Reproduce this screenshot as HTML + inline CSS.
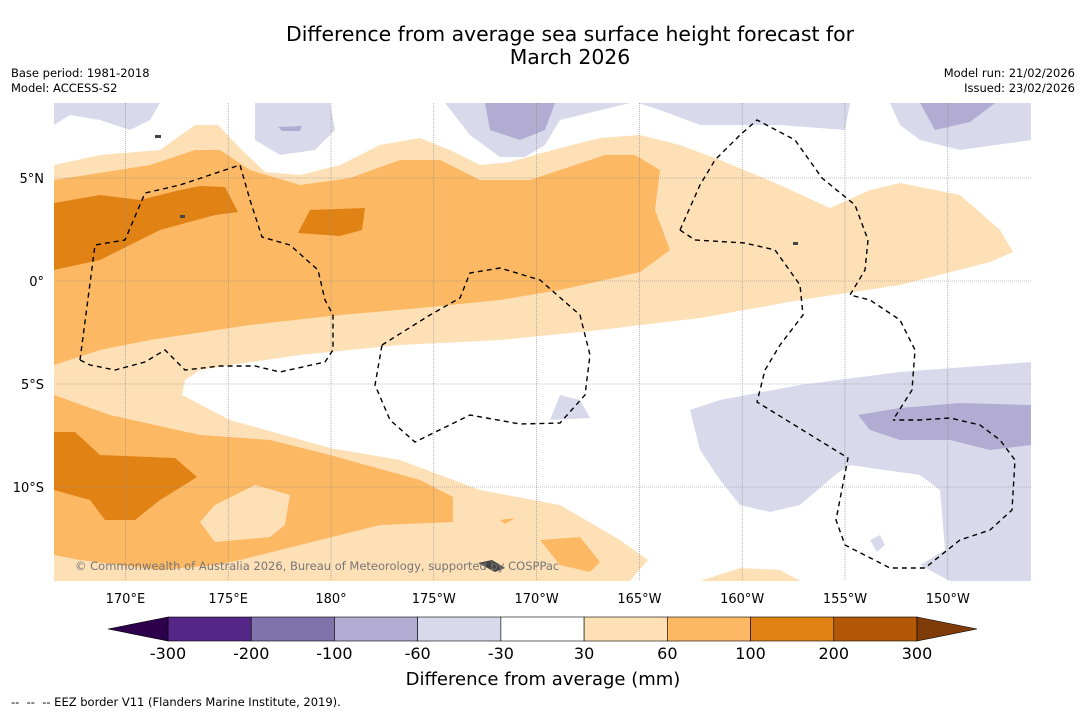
<!DOCTYPE html>
<html><head><meta charset="utf-8">
<style>
body{margin:0;background:#fff;width:1085px;height:713px;overflow:hidden;font-family:"DejaVu Sans","Liberation Sans",sans-serif;}
svg{display:block}
text{font-family:"DejaVu Sans","Liberation Sans",sans-serif;}
</style></head>
<body>
<svg id="chart" width="1085" height="713" viewBox="0 0 1085 713">
<rect x="0" y="0" width="1085" height="713" fill="#fff"/>
<text x="570" y="41" font-size="20.4" text-anchor="middle" fill="#000">Difference from average sea surface height forecast for</text>
<text x="570" y="64" font-size="20.4" text-anchor="middle" fill="#000">March 2026</text>
<text x="11" y="77" font-size="11.5">Base period: 1981-2018</text>
<text x="11" y="92" font-size="11.5">Model: ACCESS-S2</text>
<text x="1075" y="77" font-size="11.5" text-anchor="end">Model run: 21/02/2026</text>
<text x="1075" y="92" font-size="11.5" text-anchor="end">Issued: 23/02/2026</text>

<defs><clipPath id="mapclip"><rect x="54" y="103" width="977" height="478"/></clipPath></defs>
<g clip-path="url(#mapclip)">
<path fill="#fee0b6" d="M54,165 L100,155 L160,150 L195,125 L218,125 L240,148 L265,172 L300,175 L340,165 L380,145 L420,138 L450,150 L480,165 L510,162 L560,148 L600,138 L640,135 L680,145 L720,160 L780,185 L830,208 L870,190 L900,183 L960,195 L1000,230 L1013,252 L990,262 L900,285 L800,300 L700,318 L600,330 L500,340 L400,345 L300,355 L230,365 L200,370 L185,380 L182,395 L230,420 L330,448 L400,460 L480,490 L560,505 L620,540 L648,560 L630,581 L54,581 Z"/>
<path fill="#fee0b6" d="M700,581 L740,568 L780,570 L800,581 Z"/>
<path fill="#fdb863" d="M54,180 L150,165 L195,150 L220,150 L250,170 L300,185 L350,178 L400,160 L440,160 L480,180 L530,180 L560,170 L605,155 L635,155 L660,170 L655,210 L670,250 L640,272 L560,290 L500,300 L420,308 L340,315 L250,325 L150,340 L100,350 L54,365 Z"/>
<path fill="#fdb863" d="M54,395 L110,415 L200,435 L270,440 L330,455 L420,480 L453,497 L453,522 L380,525 L300,545 L240,560 L215,565 L160,570 L80,560 L54,555 Z"/>
<path fill="#fee0b6" d="M200,522 L215,505 L255,485 L290,495 L285,525 L270,537 L215,542 Z"/>
<path fill="#fdb863" d="M540,540 L580,537 L600,562 L590,572 L560,565 Z M500,520 L515,518 L505,524 Z"/>
<path fill="#e08214" d="M54,203 L100,195 L140,200 L180,190 L200,186 L225,187 L238,212 L215,215 L160,230 L100,260 L54,270 Z M298,233 L310,210 L365,208 L362,230 L340,236 Z"/>
<path fill="#e08214" d="M54,432 L75,432 L100,455 L175,458 L197,477 L160,500 L135,520 L105,520 L90,500 L54,490 Z"/>
<path fill="#d8daeb" d="M54,103 L160,103 L150,120 L130,130 L100,120 L70,115 L54,125 Z M255,103 L330,103 L335,130 L315,150 L280,155 L255,140 Z M445,103 L630,103 L560,120 L545,145 L525,157 L500,157 L470,135 Z M638,103 L850,103 L845,130 L780,125 L700,125 L660,110 Z M890,103 L1031,103 L1031,140 L960,150 L920,140 L900,125 Z M690,410 L720,400 L800,385 L900,372 L1031,362 L1031,581 L950,581 L920,565 L945,550 L940,490 L920,475 L850,465 L835,475 L800,505 L770,512 L740,505 L720,480 L700,450 Z M550,420 L560,395 L580,400 L590,418 Z M870,540 L880,535 L885,545 L877,552 Z"/>
<path fill="#b2abd2" d="M485,103 L555,103 L545,130 L520,140 L490,130 Z M920,103 L995,103 L970,122 L935,130 Z M278,127 L302,126 L300,131 L282,131 Z M858,415 L900,408 L960,403 L1031,405 L1031,445 L990,450 L950,440 L900,440 L870,430 Z"/>
<g id="grid" stroke="#888" stroke-width="0.6" stroke-dasharray="1,1"></g>
<g fill="none" stroke="#000" stroke-width="1.4" stroke-dasharray="5,4">
<path d="M80,360 L95,245 L125,240 L145,193 L180,185 L240,165 L250,200 L262,237 L290,245 L318,270 L325,300 L333,315 L333,350 L325,362 L280,372 L255,366 L220,366 L185,370 L165,350 L145,362 L115,370 L90,365 Z"/>
<path d="M382,345 L430,315 L460,298 L470,273 L500,268 L540,280 L580,315 L590,355 L585,395 L560,423 L520,424 L470,415 L415,442 L390,420 L375,385 Z"/>
<path d="M680,230 L700,185 L715,160 L740,135 L757,120 L795,140 L822,178 L855,205 L868,240 L865,270 L850,295 L870,300 L900,320 L915,350 L912,390 L893,420"/>
<path d="M680,230 L695,240 L745,243 L775,250 L800,285 L803,315 L780,345 L765,370 L757,402 L848,458 L836,520 L845,545 L890,568 L925,568 L960,540 L990,530 L1012,510 L1015,460 L1000,440 L980,425 L950,418 L920,420 L893,420"/>
</g>
<path fill="#444" d="M478,563 L492,560 L505,568 L495,572 Z M155,135 h6 v3 h-6 Z M180,215 h5 v3 h-5 Z M793,242 h5 v3 h-5 Z"/>
</g>
<text x="75" y="570" font-size="11.5" fill="#777">© Commonwealth of Australia 2026, Bureau of Meteorology, supported by COSPPac</text>
<g id="axes"></g>
<g id="colorbar"></g>
<text x="543" y="685" font-size="18" text-anchor="middle">Difference from average (mm)</text>
<text x="11" y="706" font-size="11.5" xml:space="preserve">--  --  -- EEZ border V11 (Flanders Marine Institute, 2019).</text>
</svg>
<script>
const lonTicks=[170,175,180,185,190,195,200,205,210];
const lonLabels=["170°E","175°E","180°","175°W","170°W","165°W","160°W","155°W","150°W"];
const latTicks=[5,0,-5,-10];
const latLabels=["5°N","0°","5°S","10°S"];
const levels=["-300","-200","-100","-60","-30","30","60","100","200","300"];
const binColors=["#542788","#8073ac","#b2abd2","#d8daeb","#ffffff","#fee0b6","#fdb863","#e08214","#b35806"];
const lowColor="#2d004b", highColor="#7f3b08";
const NS="http://www.w3.org/2000/svg";
function xLon(l){return 331+(l-180)*20.56;}
function yLat(l){return 281-l*20.6;}
function mk(tag,attrs,parent){const e=document.createElementNS(NS,tag);for(const k in attrs)e.setAttribute(k,attrs[k]);parent.appendChild(e);return e;}
const grid=document.getElementById('grid'), axes=document.getElementById('axes');
lonTicks.forEach((l,i)=>{
  const g=mk('line',{x1:xLon(l),x2:xLon(l),y1:103,y2:581},grid);
  
  
  const t=mk('text',{x:xLon(l),y:603,'font-size':13,'text-anchor':'middle'},axes);
  t.textContent=lonLabels[i];
  
  
});
latTicks.forEach((l,i)=>{
  const g=mk('line',{x1:54,x2:1031,y1:yLat(l),y2:yLat(l)},grid);
  
  
  const t=mk('text',{x:44,y:yLat(l)+5,'font-size':13,'text-anchor':'end'},axes);
  t.textContent=latLabels[i];
  
  
});
const cb=document.getElementById('colorbar');
const cx0=168,cx1=917,cy=617,ch=24,bw=(cx1-cx0)/binColors.length;
binColors.forEach((c,i)=>{
  const r=mk('rect',{x:cx0+i*bw,y:cy,width:bw,height:ch,fill:c,stroke:'#000','stroke-width':0.6},cb);
  
  
});
const lt=mk('polygon',{points:`${cx0},${cy} ${cx0-60},${cy+ch/2} ${cx0},${cy+ch}`,fill:lowColor,stroke:'#000','stroke-width':0.6},cb);


const ht=mk('polygon',{points:`${cx1},${cy} ${cx1+60},${cy+ch/2} ${cx1},${cy+ch}`,fill:highColor,stroke:'#000','stroke-width':0.6},cb);


levels.forEach((v,i)=>{
  const t=mk('text',{x:cx0+i*bw,y:659,'font-size':16,'text-anchor':'middle'},cb);
  t.textContent=v;
  
  
});
</script>
</body></html>
